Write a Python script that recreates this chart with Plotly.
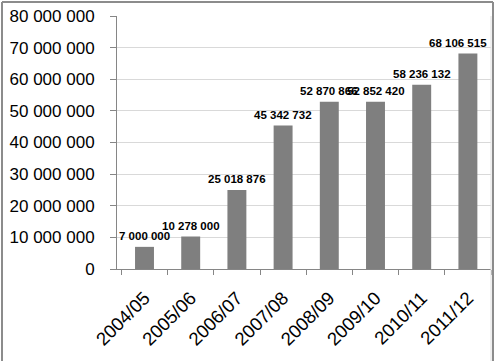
import plotly.graph_objects as go

categories = ["2004/05", "2005/06", "2006/07", "2007/08", "2008/09", "2009/10", "2010/11", "2011/12"]
values = [7000000, 10278000, 25018876, 45342732, 52870866, 52852420, 58236132, 68106515]
y_ticks = [0, 10000000, 20000000, 30000000, 40000000, 50000000, 60000000, 70000000, 80000000]
y_tick_labels = ["0", "10 000 000", "20 000 000", "30 000 000", "40 000 000",
                 "50 000 000", "60 000 000", "70 000 000", "80 000 000"]


def fmt(v):
    return f"{v:,}".replace(",", " ")


W, H = 496, 361
L, R, T, B = 117, 5, 16, 92
pw, ph = W - L - R, H - T - B


def px(x):
    return (x - L) / pw


def py(y):
    return 1 - (y - T) / ph


fig = go.Figure(go.Bar(
    x=categories, y=values,
    marker=dict(color="#7f7f7f", line=dict(width=0)),
    width=0.41,
    hoverinfo="x+y",
))

label_shift = [0, 0, 0, 0, 0, 0, 0, -10]
for c, v, s in zip(categories, values, label_shift):
    fig.add_annotation(
        x=c, y=v, text=fmt(v), showarrow=False,
        yanchor="bottom", yshift=3, xshift=s,
        font=dict(family="Liberation Sans", size=11.5, color="#000000", weight="bold"),
    )

border = dict(color="#8c8c8c", width=2)
fig.update_layout(
    width=W, height=H,
    margin=dict(l=L, r=R, t=T, b=B, pad=0),
    paper_bgcolor="white", plot_bgcolor="white",
    showlegend=False,
    font=dict(family="Liberation Sans", color="#000000"),
    xaxis=dict(
        tickangle=-45, tickfont=dict(size=18.5),
        showline=True, linecolor="#868686", linewidth=1,
        ticks="outside", ticklen=5, tickcolor="#868686",
        tickson="boundaries", showgrid=False, automargin=False,
        ticklabelstandoff=10,
    ),
    yaxis=dict(
        range=[0, 80000000], tickvals=y_ticks, ticktext=y_tick_labels,
        tickfont=dict(size=17),
        showline=True, linecolor="#868686", linewidth=1,
        ticks="outside", ticklen=6, tickcolor="#868686",
        showgrid=True, gridcolor="#d9d9d9", gridwidth=1,
        zeroline=False, ticklabelstandoff=12, automargin=False,
    ),
    shapes=[
        dict(type="line", xref="paper", yref="paper",
             x0=px(2), x1=px(493), y0=py(2), y1=py(2), line=border),
        dict(type="line", xref="paper", yref="paper",
             x0=px(2), x1=px(2), y0=py(370), y1=py(2), line=border),
        dict(type="line", xref="paper", yref="paper",
             x0=px(493), x1=px(493), y0=py(370), y1=py(2), line=border),
        dict(type="line", xref="paper", yref="paper",
             x0=px(491), x1=px(491), y0=py(370), y1=py(16),
             line=dict(color="#e0e0e0", width=1)),
    ],
)

fig.write_html(
    "out.html",
    config={"displayModeBar": False},
    post_script="document.body.style.margin='0';document.body.style.overflow='hidden';",
)
